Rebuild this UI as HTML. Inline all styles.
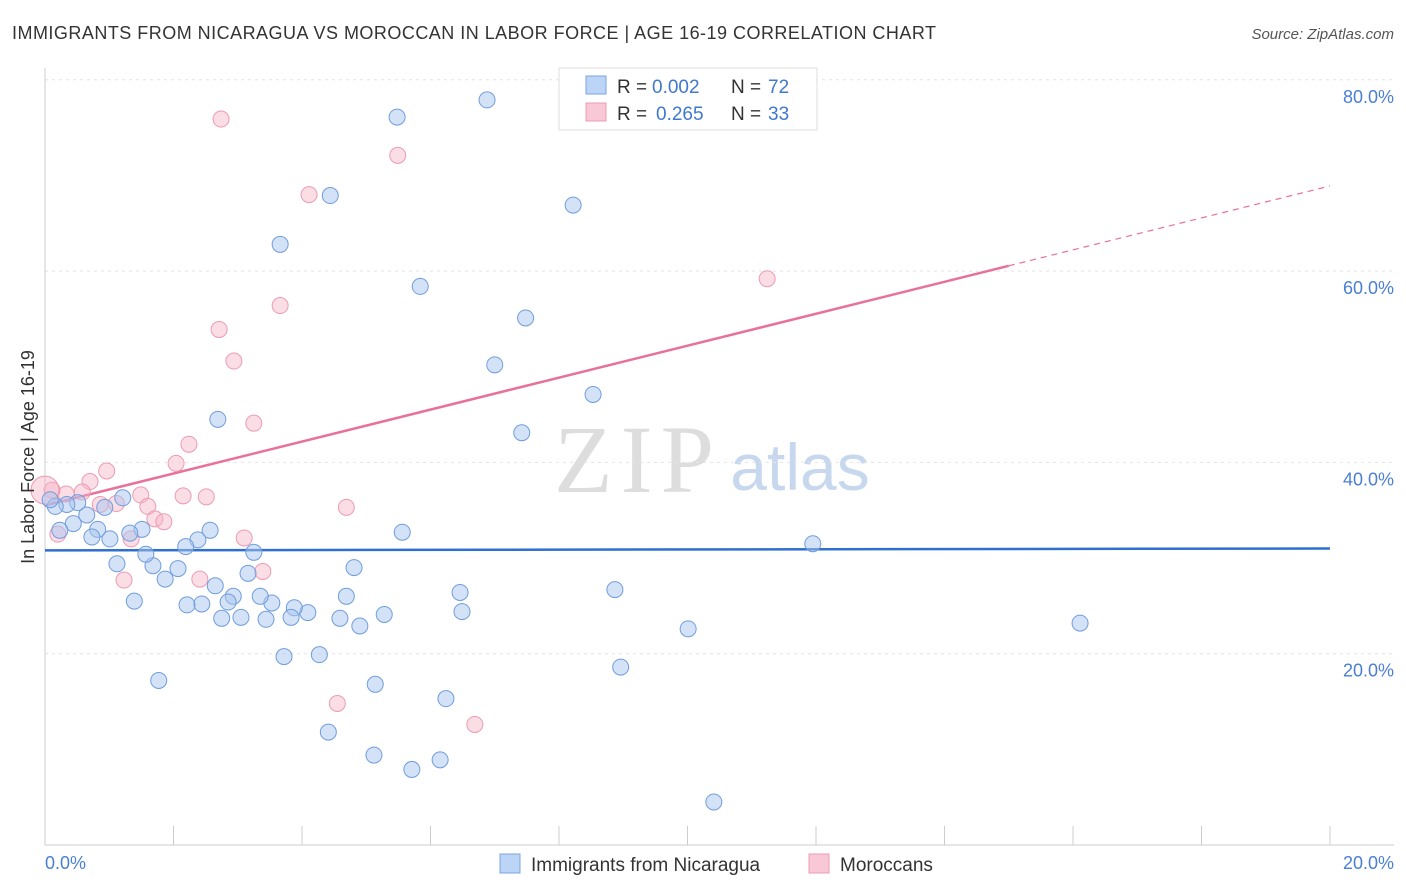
<!DOCTYPE html>
<html><head><meta charset="utf-8"><style>
body{margin:0;background:#fff;font-family:"Liberation Sans",sans-serif;}
</style></head><body>
<svg width="1406" height="892" style="display:block">
<text x="12" y="39" font-size="18" fill="#333" textLength="924" lengthAdjust="spacing">IMMIGRANTS FROM NICARAGUA VS MOROCCAN IN LABOR FORCE | AGE 16-19 CORRELATION CHART</text>
<text x="1394" y="39" font-size="15" fill="#555" text-anchor="end" font-style="italic">Source: ZipAtlas.com</text>
<text x="634" y="492" font-size="96" fill="#ddd" font-family="Liberation Serif" text-anchor="middle" textLength="160">ZIP</text>
<text x="800" y="490" font-size="66" fill="#c7d8ee" text-anchor="middle">atlas</text>
<g id="grid"></g>
<g id="axes"></g>
<g id="lines"></g>
<g id="pts"></g>
<text transform="translate(34,457) rotate(-90)" font-size="18" fill="#333" text-anchor="middle">In Labor Force | Age 16-19</text>
<text x="45" y="869" font-size="18" fill="#4a7fd4">0.0%</text>
<text x="1394" y="869" font-size="18" fill="#4a7fd4" text-anchor="end">20.0%</text>
<g>
<rect x="559" y="68" width="258" height="62" fill="#fff" stroke="#ddd"/>
<rect x="586" y="76" width="20" height="18" fill="#bcd4f5" stroke="#7aa6e0"/>
<rect x="586" y="103" width="20" height="18" fill="#f9c8d6" stroke="#ec9bb2"/>
<text x="617" y="93" font-size="19" fill="#333">R =</text>
<text x="652" y="93" font-size="19" fill="#3f78d0">0.002</text>
<text x="731" y="93" font-size="19" fill="#333">N =</text>
<text x="768" y="93" font-size="19" fill="#3f78d0">72</text>
<text x="617" y="120" font-size="19" fill="#333">R =</text>
<text x="656" y="120" font-size="19" fill="#3f78d0">0.265</text>
<text x="731" y="120" font-size="19" fill="#333">N =</text>
<text x="768" y="120" font-size="19" fill="#3f78d0">33</text>
</g>
<g>
<rect x="500" y="854" width="20" height="19" fill="#bcd4f5" stroke="#7aa6e0"/>
<text x="531" y="871" font-size="19" fill="#333">Immigrants from Nicaragua</text>
<rect x="809" y="854" width="20" height="19" fill="#f9c8d6" stroke="#ec9bb2"/>
<text x="840" y="871" font-size="19" fill="#333">Moroccans</text>
</g>
</svg>
<script>
const yTicks=[20,40,60,80];
const yTickLabels=["20.0%","40.0%","60.0%","80.0%"];
const blueX=[6.88,5.48,4.44,8.22,3.66,5.84,7.48,7.0,8.53,2.69,7.42,11.95,16.11,10.01,8.87,8.96,10.41,6.46,6.49,5.56,4.81,4.69,4.59,4.9,5.28,6.24,5.14,4.41,5.12,5.71,6.15,4.27,3.72,4.09,3.88,3.83,3.44,3.53,3.35,3.16,3.25,3.05,2.93,2.85,2.75,2.65,2.57,2.38,2.44,2.21,2.19,2.07,1.87,1.68,1.57,1.51,1.32,1.21,1.01,1.12,1.39,1.77,0.82,0.73,0.93,0.65,0.44,0.51,0.34,0.23,0.16,0.08];
const blueY=[77.9,76.1,67.9,66.9,62.8,58.4,55.1,50.2,47.1,44.5,43.1,31.5,23.2,22.6,26.7,18.6,4.5,26.4,24.4,32.7,29.0,26.0,23.7,22.9,24.1,15.3,16.8,11.8,9.4,7.9,8.9,19.9,19.7,24.3,24.8,23.8,23.6,25.3,26.0,28.4,30.6,23.8,26.0,25.4,23.7,27.1,32.9,31.9,25.2,25.1,31.2,28.9,27.8,29.2,30.4,33.0,32.6,36.3,32.0,29.4,25.5,17.2,33.0,32.2,35.3,34.5,33.6,35.8,35.6,32.9,35.4,36.1];
const pinkX=[2.74,5.49,4.11,11.24,3.66,2.71,2.94,3.25,2.24,2.04,0.96,0.7,0.58,0.33,0.11,0.86,1.11,1.49,1.6,1.71,1.85,2.15,2.51,3.1,3.39,1.34,1.23,2.41,4.69,4.55,6.69,0.2,0.0];
const pinkY=[75.9,72.1,68.0,59.2,56.4,53.9,50.6,44.1,41.9,39.9,39.1,38.0,36.9,36.7,37.1,35.6,35.7,36.6,35.4,34.1,33.8,36.5,36.4,32.1,28.6,32.0,27.7,27.8,35.3,14.8,12.6,32.5,37.1];
const blueFit=[30.8,31.0];
const pinkFit=[35.5,68.9];
const X=v=>45+v*64.25, Y=v=>845-v*9.565;
const ns="http://www.w3.org/2000/svg";
function mk(p,t,a){const e=document.createElementNS(ns,t);for(const k in a)e.setAttribute(k,a[k]);document.getElementById(p).appendChild(e);return e;}
yTicks.forEach((t,i)=>{
 const g=mk('grid','line',{x1:45,x2:1394,y1:Y(t),y2:Y(t),stroke:"#e4e4e4","stroke-dasharray":"3,4"});
 
 
 const tx=mk('grid','text',{x:1394,y:Y(t)+23,"font-size":18,fill:"#4a7fd4","text-anchor":"end"});
 tx.textContent=yTickLabels[i];
 
 
});
const ya=mk('axes','line',{x1:45,x2:45,y1:68,y2:845,stroke:"#ccc"});


const xa=mk('axes','line',{x1:45,x2:1394,y1:845,y2:845,stroke:"#ccc"});


for(let v=0;v<=20;v+=2){const t=mk('axes','line',{x1:X(v),x2:X(v),y1:826,y2:845,stroke:"#ccc"});
 
 }
const bl=mk('lines','line',{x1:X(0),x2:X(20),y1:Y(blueFit[0]),y2:Y(blueFit[1]),stroke:"#2f6fcf","stroke-width":2.5});


const xs=15.0, ys=pinkFit[0]+(pinkFit[1]-pinkFit[0])*xs/20;
const pl=mk('lines','line',{x1:X(0),x2:X(xs),y1:Y(pinkFit[0]),y2:Y(ys),stroke:"#e8709a","stroke-width":2.5});


const pd=mk('lines','line',{x1:X(xs),x2:X(20),y1:Y(ys),y2:Y(pinkFit[1]),stroke:"#e8709a","stroke-width":1.2,"stroke-dasharray":"6,5"});


pinkX.forEach((x,i)=>{const c=mk('pts','circle',{cx:X(x),cy:Y(pinkY[i]),r:i==pinkX.length-1?14:8,fill:"rgba(246,180,200,0.45)",stroke:"#ec9bb2","stroke-width":1});
 
 });
blueX.forEach((x,i)=>{const c=mk('pts','circle',{cx:X(x),cy:Y(blueY[i]),r:8,fill:"rgba(170,198,240,0.5)",stroke:"#6f9ddc","stroke-width":1});
 
 });
</script>
</body></html>
